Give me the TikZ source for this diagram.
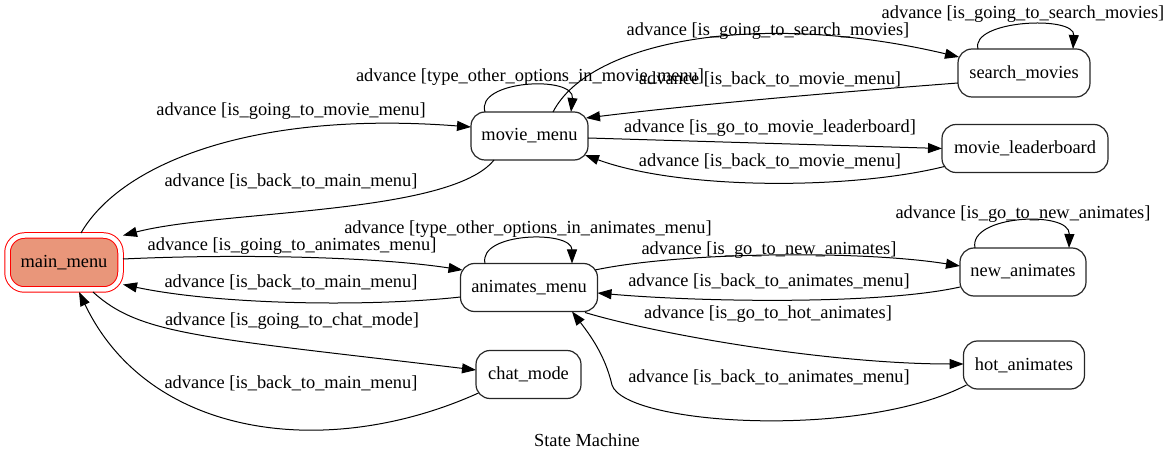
\documentclass[tikz,border=0pt]{standalone}
\usepackage{fontspec}
\setmainfont{Liberation Serif}
\usetikzlibrary{arrows.meta, positioning}
\definecolor{salmonfill}{HTML}{E9967A}
\newcommand{\gvfont}{\fontsize{18.4pt}{21pt}\selectfont}

\begin{document}
\begin{tikzpicture}[x=1pt, y=-1pt,
        >={Triangle[length=14pt, width=10pt]},
        state/.style={draw=black!85, line width=1.2pt, rounded corners=14pt, minimum height=48pt,
                      inner sep=0pt, outer sep=0pt, font=\gvfont},
        arr/.style={->, line width=1pt},
        lbl/.style={inner sep=0pt, font=\gvfont},
    ]
    \useasboundingbox (0,0) rectangle (1175,462);

    % ---- States ----
    \node[state, minimum width=113pt, minimum height=54pt, rounded corners=17pt, line width=1pt,
          draw=red, fill=salmonfill, double=white, double distance=4.5pt] (main) at (64,262.5) {main\_menu};
    \node[state, minimum width=117pt] (movie) at (529.5,136) {movie\_menu};
    \node[state, minimum width=132pt] (search) at (1024,73) {search\_movies};
    \node[state, minimum width=166pt] (leader) at (1025,148.5) {movie\_leaderboard};
    \node[state, minimum width=137pt] (animates) at (529,287.5) {animates\_menu};
    \node[state, minimum width=126pt] (newani) at (1023,272) {new\_animates};
    \node[state, minimum width=121pt] (hotani) at (1024,365) {hot\_animates};
    \node[state, minimum width=105pt] (chat) at (528.5,374.5) {chat\_mode};

    % ---- main menu <-> movie menu ----
    \draw[arr] ([xshift=17pt,yshift=2.5pt]main.north) .. controls (120,165) and (250,110) .. ([yshift=9pt]movie.west);
    \draw[arr] ([xshift=-35.5pt]movie.south) .. controls (450,215) and (220,210) .. ([xshift=2.5pt]main.north east);
    \node[lbl] (l-mm-mv) at (291,111) {advance [is\_going\_to\_movie\_menu]};
    \node[lbl] (l-mv-mm) at (291,181) {advance [is\_back\_to\_main\_menu]};

    % ---- movie menu branch ----
    \draw[arr] ([xshift=-44.5pt]movie.north) .. controls (475,80) and (575,75) .. ([xshift=41.5pt]movie.north);
    \node[lbl] (l-mv-loop) at (530,77) {advance [type\_other\_options\_in\_movie\_menu]};

    \draw[arr] ([xshift=23.5pt]movie.north) .. controls (590,40) and (760,10) .. ([xshift=1pt,yshift=16pt]search.west);
    \draw[arr] ([yshift=-10pt]search.west) .. controls (840,92) and (700,104) .. ([xshift=-2pt,yshift=18pt]movie.east);
    \draw[arr] ([xshift=-46pt]search.north) .. controls (970,20) and (1075,15) .. ([xshift=49pt]search.north);
    \node[lbl] (l-mv-sm) at (768,31) {advance [is\_going\_to\_search\_movies]};
    \node[lbl] (l-sm-mv) at (770,79) {advance [is\_back\_to\_movie\_menu]};
    \node[lbl] (l-sm-loop) at (1023,14) {advance [is\_going\_to\_search\_movies]};

    \draw[arr] ([yshift=-2pt]movie.east) -- (leader.west);
    \draw[arr] ([xshift=2.5pt,yshift=-18pt]leader.west) .. controls (850,190) and (680,190) .. ([xshift=-3pt,yshift=-19pt]movie.east);
    \node[lbl] (l-mv-ml) at (770,128) {advance [is\_go\_to\_movie\_leaderboard]};
    \node[lbl] (l-ml-mv) at (770,161) {advance [is\_back\_to\_movie\_menu]};

    % ---- main menu <-> animates menu ----
    \draw[arr] ([xshift=2.5pt,yshift=3.5pt]main.east) .. controls (230,254) and (370,256) .. ([xshift=2pt,yshift=17.5pt]animates.west);
    \draw[arr] ([yshift=-9.5pt]animates.west) .. controls (370,307) and (220,305) .. ([xshift=2.5pt,yshift=-22pt]main.east);
    \node[lbl] (l-mm-am) at (292,246) {advance [is\_going\_to\_animates\_menu]};
    \node[lbl] (l-am-mm) at (291,282) {advance [is\_back\_to\_main\_menu]};

    % ---- animates menu branch ----
    \draw[arr] ([xshift=-44pt]animates.north) .. controls (478,232) and (572,230) .. ([xshift=43pt]animates.north);
    \node[lbl] (l-am-loop) at (528,229) {advance [type\_other\_options\_in\_animates\_menu]};

    \draw[arr] ([xshift=-2.5pt,yshift=17.5pt]animates.east) .. controls (680,252) and (860,250) .. ([yshift=6pt]newani.west);
    \draw[arr] ([yshift=-15pt]newani.west) .. controls (880,305) and (700,302) .. ([yshift=-5.5pt]animates.east);
    \draw[arr] ([xshift=-48pt]newani.north) .. controls (968,215) and (1070,210) .. ([xshift=46pt]newani.north);
    \node[lbl] (l-am-na) at (769,250) {advance [is\_go\_to\_new\_animates]};
    \node[lbl] (l-na-am) at (769,281) {advance [is\_back\_to\_animates\_menu]};
    \node[lbl] (l-na-loop) at (1023,214) {advance [is\_go\_to\_new\_animates]};

    \draw[arr] ([xshift=56pt,yshift=-1pt]animates.south) .. controls (660,335) and (830,364) .. ([yshift=1pt]hotani.west);
    \draw[arr] ([xshift=3pt,yshift=-20pt]hotani.west) .. controls (860,440) and (625,425) .. (612,385)
        .. controls (605,355) and (590,335) .. ([xshift=43pt]animates.south);
    \node[lbl] (l-am-ha) at (768,314) {advance [is\_go\_to\_hot\_animates]};
    \node[lbl] (l-ha-am) at (769,377) {advance [is\_back\_to\_animates\_menu]};

    % ---- main menu <-> chat mode ----
    \draw[arr] ([xshift=29pt,yshift=-2.5pt]main.south) .. controls (140,335) and (200,337) .. ([yshift=4.5pt]chat.west);
    \draw[arr] ([xshift=2.5pt,yshift=-18.5pt]chat.west) .. controls (330,460) and (150,440) .. ([xshift=15pt,yshift=-2.5pt]main.south);
    \node[lbl] (l-mm-cm) at (292,321) {advance [is\_going\_to\_chat\_mode]};
    \node[lbl] (l-cm-mm) at (291,383) {advance [is\_back\_to\_main\_menu]};

    % ---- Title ----
    \node[lbl] (title) at (587,440) {State Machine};
\end{tikzpicture}
\end{document}
